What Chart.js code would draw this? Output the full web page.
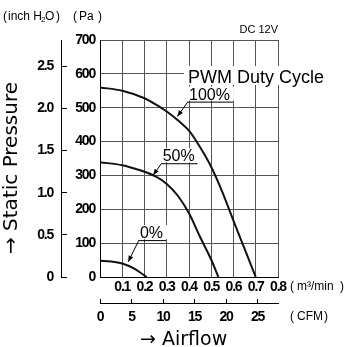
<!DOCTYPE html>
<html>
<head>
<meta charset="utf-8">
<script src="https://cdn.jsdelivr.net/npm/chart.js@4.4.1/dist/chart.umd.min.js"></script>
<style>
  html, body { margin: 0; padding: 0; background: #fff; }
  canvas { display: block; }
</style>
</head>
<body>
<canvas id="pqChart" width="349" height="347"></canvas>
<script>
// airflow (m3/min) vs static pressure (Pa), one pair per PWM duty cycle
const flow100 = [0, 0.1, 0.2, 0.25, 0.3, 0.35, 0.4, 0.45, 0.5, 0.55, 0.6, 0.65, 0.7];
const pa100 = [560, 550, 528, 510, 489, 463, 432, 383, 325, 251, 166, 83, 0];
const flow50 = [0, 0.1, 0.15, 0.2, 0.25, 0.3, 0.35, 0.4, 0.45, 0.5, 0.532];
const pa50 = [339, 330, 321, 311, 297, 275, 240, 188, 118, 51, 0];
const flow0 = [0, 0.05, 0.1, 0.15, 0.21];
const pa0 = [48, 46, 40, 26, 0];
const dutyLabels = ["100%", "50%", "0%"];

// tick labels
const flowTicks = [0, 0.1, 0.2, 0.3, 0.4, 0.5, 0.6, 0.7, 0.8];
const paTicks = [0, 100, 200, 300, 400, 500, 600, 700];
const inchTicks = [0, 0.5, 1.0, 1.5, 2.0, 2.5];
const cfmTicks = [0, 5, 10, 15, 20, 25];

// unit conversions for the secondary axes
const PA_PER_INCH = 249.089;
const CFM_PER_M3MIN = 35.3147;

const tickFont = {
  family: "'Liberation Sans', sans-serif",
  size: 14,
  weight: "bold",
};

function toPoints(xs, ys) {
  return xs.map((v, i) => ({ x: v, y: ys[i] }));
}

function setTicks(list) {
  return function (scale) {
    scale.ticks = list.map((v) => ({ value: v }));
  };
}

function fixBox(w, h) {
  return function (scale) {
    if (w !== null) scale.width = w;
    if (h !== null) scale.height = h;
    scale.paddingTop = 0;
    scale.paddingBottom = 0;
    scale.paddingLeft = 0;
    scale.paddingRight = 0;
  };
}

// tighter tick digits, like the condensed face of the original
const condensedTicks = {
  id: "condensedTicks",
  beforeDraw(chart) {
    chart.ctx.letterSpacing = "-1.2px";
  },
};

// texts, callouts and arrows on top of the chart
const annotate = {
  id: "annotate",
  afterDraw(chart) {
    const ctx = chart.ctx;
    const sx = chart.scales.x;
    const sy = chart.scales.y;
    const px = (v) => sx.getPixelForValue(v);
    const py = (v) => sy.getPixelForValue(v);

    ctx.save();
    ctx.letterSpacing = "0px";
    ctx.fillStyle = "#000";
    ctx.strokeStyle = "#000";
    ctx.textBaseline = "alphabetic";

    // header units
    ctx.font = "12px 'Liberation Sans', sans-serif";
    ctx.textAlign = "left";
    ctx.fillText("(", 3, 20);
    ctx.fillText("inch H", 8, 20);
    ctx.font = "8px 'Liberation Sans', sans-serif";
    ctx.fillText("2", 41, 22);
    ctx.font = "12px 'Liberation Sans', sans-serif";
    ctx.fillText("O", 45, 20);
    ctx.fillText(")", 56, 20);
    ctx.fillText("(", 73, 20);
    ctx.fillText("Pa", 79, 20);
    ctx.fillText(")", 98, 20);

    ctx.font = "11px 'Liberation Sans', sans-serif";
    ctx.textAlign = "right";
    ctx.fillText("DC 12V", chart.chartArea.right, 33);

    // axis unit labels on the right
    ctx.font = "12px 'Liberation Sans', sans-serif";
    ctx.textAlign = "left";
    ctx.textBaseline = "middle";
    ctx.fillText("(", 290, 287);
    ctx.fillText("m\u00B3/min", 297, 287);
    ctx.fillText(")", 340, 287);
    ctx.fillText("(", 290, 317);
    ctx.fillText("CFM", 297, 317);
    ctx.fillText(")", 324, 317);

    // axis titles
    ctx.font = "19px 'DejaVu Sans', sans-serif";
    ctx.textBaseline = "alphabetic";
    ctx.fillText("\u2192 Airflow", 140, 345);

    ctx.save();
    ctx.translate(17, 168);
    ctx.rotate(-Math.PI / 2);
    ctx.font = "20px 'DejaVu Sans', sans-serif";
    ctx.textAlign = "center";
    ctx.fillText("\u2192 Static Pressure", 0, 0);
    ctx.restore();

    // PWM legend title
    ctx.font = "18px 'Liberation Sans', sans-serif";
    ctx.textAlign = "left";
    const title = "PWM Duty Cycle";
    const tw = ctx.measureText(title).width;
    ctx.fillStyle = "#fff";
    ctx.fillRect(184, 66, tw + 6, 19);
    ctx.fillStyle = "#000";
    ctx.fillText(title, 188, 83);

    // callouts: tail at the underline start, tip near the curve
    const callouts = [
      { text: dutyLabels[0], tail: [0.3955, 518], tip: [0.348, 474] },
      { text: dutyLabels[1], tail: [0.277, 336], tip: [0.2396, 301] },
      { text: dutyLabels[2], tail: [0.175, 109], tip: [0.127, 45] },
    ];
    ctx.font = "16px 'Liberation Sans', sans-serif";
    callouts.forEach((c) => {
      const tx = px(c.tail[0]);
      const ty = py(c.tail[1]);
      const hx = px(c.tip[0]);
      const hy = py(c.tip[1]);
      const w = ctx.measureText(c.text).width;

      ctx.fillStyle = "#fff";
      ctx.fillRect(tx, ty - 15, w + 5, 14);
      ctx.fillStyle = "#000";
      ctx.fillText(c.text, tx + 1, ty - 2);

      ctx.lineWidth = 1;
      ctx.beginPath();
      ctx.moveTo(tx, ty + 0.5);
      ctx.lineTo(tx + w + 4, ty + 0.5);
      ctx.moveTo(tx, ty);
      ctx.lineTo(hx, hy);
      ctx.stroke();

      // arrow head
      const ang = Math.atan2(hy - ty, hx - tx);
      const len = 6;
      const half = 2.5;
      ctx.beginPath();
      ctx.moveTo(hx, hy);
      ctx.lineTo(hx - len * Math.cos(ang) + half * Math.sin(ang), hy - len * Math.sin(ang) - half * Math.cos(ang));
      ctx.lineTo(hx - len * Math.cos(ang) - half * Math.sin(ang), hy - len * Math.sin(ang) + half * Math.cos(ang));
      ctx.closePath();
      ctx.fill();
    });

    ctx.restore();
  },
};

function initChart() {
  const ctx = document.getElementById("pqChart");
  Chart.defaults.color = "#000";

  const curve = {
    showLine: true,
    borderColor: "#111",
    borderWidth: 2,
    pointRadius: 0,
    cubicInterpolationMode: "monotone",
    fill: false,
  };

  new Chart(ctx, {
    type: "scatter",
    data: {
      datasets: [
        { label: dutyLabels[0], data: toPoints(flow100, pa100), ...curve },
        { label: dutyLabels[1], data: toPoints(flow50, pa50), ...curve },
        { label: dutyLabels[2], data: toPoints(flow0, pa0), ...curve },
      ],
    },
    options: {
      responsive: false,
      animation: false,
      devicePixelRatio: 1,
      layout: {
        padding: { left: 0, top: 40, right: 71, bottom: 24 },
      },
      scales: {
        x: {
          type: "linear",
          position: "bottom",
          weight: 0,
          min: 0,
          max: 0.8,
          afterBuildTicks: setTicks(flowTicks),
          afterFit: fixBox(null, 26),
          grid: { color: "#555", lineWidth: 1, drawTicks: false },
          border: { color: "#000", width: 1 },
          ticks: {
            padding: 2,
            font: tickFont,
            maxRotation: 0,
            autoSkip: false,
            callback: (v) => (v === 0 ? "" : v.toFixed(1)),
          },
        },
        x2: {
          type: "linear",
          position: "bottom",
          weight: 1,
          min: 0,
          max: 0.8 * CFM_PER_M3MIN,
          afterBuildTicks: setTicks(cfmTicks),
          afterFit: fixBox(null, 20),
          grid: { drawOnChartArea: false, color: "#000", tickLength: -4 },
          border: { color: "#000", width: 1 },
          ticks: {
            padding: 10,
            font: tickFont,
            maxRotation: 0,
            autoSkip: false,
            callback: (v) => String(v),
          },
        },
        y: {
          type: "linear",
          position: "left",
          weight: 0,
          min: 0,
          max: 700,
          afterBuildTicks: setTicks(paTicks),
          afterFit: fixBox(39, null),
          grid: { color: "#555", lineWidth: 1, drawTicks: false },
          border: { color: "#000", width: 1 },
          ticks: {
            padding: 5,
            font: tickFont,
            autoSkip: false,
            callback: (v) => String(v),
          },
        },
        y2: {
          type: "linear",
          position: "left",
          weight: 1,
          min: 0,
          max: 700 / PA_PER_INCH,
          afterBuildTicks: setTicks(inchTicks),
          afterFit: fixBox(61, null),
          grid: { drawOnChartArea: false, color: "#000", tickLength: -6 },
          border: { color: "#000", width: 1 },
          ticks: {
            padding: 14,
            font: tickFont,
            autoSkip: false,
            callback: (v) => (v === 0 ? "0" : v.toFixed(1)),
          },
        },
      },
      plugins: {
        legend: { display: false },
        tooltip: { enabled: false },
      },
    },
    plugins: [condensedTicks, annotate],
  });
}

document.addEventListener("DOMContentLoaded", initChart);
</script>
</body>
</html>
